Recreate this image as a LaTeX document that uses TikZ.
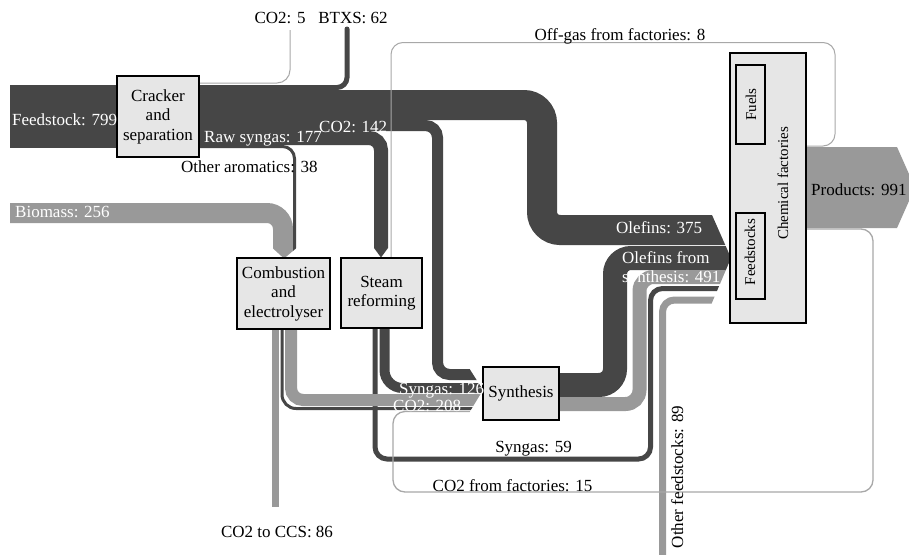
\documentclass[tikz,border=0pt]{standalone}
\usepackage{fontspec}
\setmainfont{Liberation Serif}
\definecolor{dk}{HTML}{464646}
\definecolor{gy}{HTML}{999999}
\definecolor{thn}{HTML}{A8A8A8}
\definecolor{bx}{HTML}{E6E6E6}
\newcommand\lblfont{\fontsize{17}{19.5}\selectfont}
\newcommand\smfont{\fontsize{15}{17}\selectfont}
\tikzset{
  dkband/.style={draw=dk, line width=#1},
  gyband/.style={draw=gy, line width=#1},
  thinflow/.style={draw=thn, line width=#1},
  procbox/.style={draw=black, line width=1.6pt, fill=bx, align=center, font=\lblfont, inner sep=0pt},
  lbl/.style={font=\lblfont, inner sep=0pt},
  wlbl/.style={lbl, text=white},
}
\begin{document}
\begin{tikzpicture}[x=1pt,y=-1pt]
\fill[white] (0,0) rectangle (909,554);
\useasboundingbox (0,0) rectangle (909,554);

% feedstock
\fill[dk] (10,85) rectangle (199,148);
% CO2 5
\draw[thinflow=1pt, rounded corners=13pt] (199,83) -- (290,83) -- (290,30);
% BTXS
\draw[dkband=5pt, rounded corners=10pt, line cap=round] (199,87.5) -- (347,87.5) -- (347,29);

% flows into chemical factories
\begin{scope}
\clip (0,0) -- (712,0) -- (712,215) -- (731,258) -- (711,305) -- (711,600) -- (0,600) -- cycle;
\draw[dkband=30pt, rounded corners=18pt] (199,105) -- (542,105) -- (542,230) -- (740,230);
\draw[dkband=24pt, rounded corners=16pt] (559,385) -- (615,385) -- (615,258) -- (740,258);
\draw[gyband=14pt, rounded corners=14pt] (559,404) -- (639.5,404) -- (639.5,277) -- (740,277);
\draw[dkband=5pt, rounded corners=12pt] (375,328) -- (375,459) -- (650.5,459) -- (650.5,288.5) -- (740,288.5);
\draw[gyband=7pt, rounded corners=12pt] (662.5,560) -- (662.5,300) -- (740,300);
\end{scope}

% flows into synthesis
\begin{scope}
\clip (0,0) -- (469,0) -- (469,368) -- (483,390) -- (469,413) -- (469,430) -- (500,430) -- (500,0) -- (1000,0) -- (1000,600) -- (0,600) -- cycle;
\draw[dkband=11pt, rounded corners=12pt] (199,125.5) -- (437.5,125.5) -- (437.5,374.5) -- (490,374.5);
\draw[dkband=10pt, rounded corners=18pt] (384.5,328) -- (384.5,388) -- (490,388);
\draw[gyband=12pt, rounded corners=12pt] (291,329) -- (291,400) -- (490,400);
\draw[dkband=3pt, rounded corners=14pt] (282,329) -- (282,408.5) -- (490,408.5);
\draw[thinflow=1.3pt, rounded corners=12pt] (806,229) -- (873,229) -- (873,492) -- (393,492) -- (393,411.5) -- (490,411.5);
\end{scope}

% flows into combustion
\begin{scope}
\clip (0,0) -- (1000,0) -- (1000,248) -- (296.5,248) -- (284,258.5) -- (272.5,248) -- (0,248) -- cycle;
\draw[gyband=20pt, rounded corners=16pt] (10,213) -- (283,213) -- (283,262);
\draw[dkband=3pt, rounded corners=12pt] (199,146.5) -- (294.5,146.5) -- (294.5,262);
\end{scope}

% flow into steam reforming
\begin{scope}
\clip (0,0) -- (1000,0) -- (1000,248) -- (388,248) -- (381,257.5) -- (374,248) -- (0,248) -- cycle;
\draw[dkband=14pt, rounded corners=12pt] (199,138) -- (381,138) -- (381,262);
\end{scope}

% CO2 to CCS
\draw[gyband=7pt] (275,329) -- (275,507);
% products
\fill[gy] (806,147) -- (897,147) -- (915,187.5) -- (897,228) -- (806,228) -- cycle;
% off-gas
\draw[thinflow=1pt, rounded corners=12pt] (806,146) -- (835,146) -- (835,42.5) -- (391,42.5) -- (391,258);

% boxes
\node[procbox, minimum width=82pt, minimum height=81pt] (crk) at (158,116.5) {Cracker\\and\\separation};
\node[procbox, minimum width=93pt, minimum height=71pt] (comb) at (283.5,293.5) {Combustion\\and\\electrolyser};
\node[procbox, minimum width=81pt, minimum height=70pt] (steam) at (381.5,293) {Steam\\reforming};
\node[procbox, minimum width=76pt, minimum height=53pt] (syn) at (521,393.5) {Synthesis};
\node[procbox, minimum width=76pt, minimum height=270pt] (chem) at (768,188) {};
\node[procbox, line width=1.4pt, minimum width=29pt, minimum height=79pt] (fuels) at (750.5,104.5) {};
\node[procbox, line width=1.4pt, minimum width=29pt, minimum height=86pt] (fstk) at (750.5,256) {};
\node[lbl, font=\smfont, rotate=90, anchor=base] (fuelslbl) at (756,104.5) {Fuels};
\node[lbl, font=\smfont, rotate=90, anchor=base] (fstklbl) at (755,252) {Feedstocks};
\node[lbl, font=\smfont, rotate=90, anchor=base] (chemlbl) at (788,183.5) {Chemical factories};

% labels
\node[wlbl, anchor=base west] (l1) at (12,125) {Feedstock: 799};
\node[lbl, anchor=base] (l2) at (280,23) {CO2: 5};
\node[lbl, anchor=base] (l3) at (353,23) {BTXS: 62};
\node[wlbl, anchor=base west] (l4) at (204,142) {Raw syngas: 177};
\node[wlbl, anchor=base west] (l5) at (319,132) {CO2: 142};
\node[lbl, anchor=base west] (l6) at (181,172) {Other aromatics: 38};
\node[wlbl, anchor=base west] (l7) at (15,217) {Biomass: 256};
\node[lbl, anchor=base] (l8) at (620,40) {Off-gas from factories: 8};
\node[wlbl, anchor=base west] (l9) at (616,233) {Olefins: 375};
\node[wlbl, anchor=base west] (l10) at (622,263) {Olefins from};
\node[wlbl, anchor=base west] (l11) at (622,282) {synthesis: 491};
\node[lbl, anchor=base west] (l12) at (811,195) {Products: 991};
\node[wlbl, anchor=base west] (l13) at (399,394) {Syngas: 126};
\node[wlbl, anchor=base west] (l14) at (393,411) {CO2: 208};
\node[lbl, anchor=base] (l15) at (533.5,452) {Syngas: 59};
\node[lbl, anchor=base] (l16) at (512.5,491) {CO2 from factories: 15};
\node[lbl, anchor=base] (l17) at (277,537) {CO2 to CCS: 86};
\node[lbl, rotate=90, anchor=base] (l18) at (683,477) {Other feedstocks: 89};
\end{tikzpicture}
\end{document}
